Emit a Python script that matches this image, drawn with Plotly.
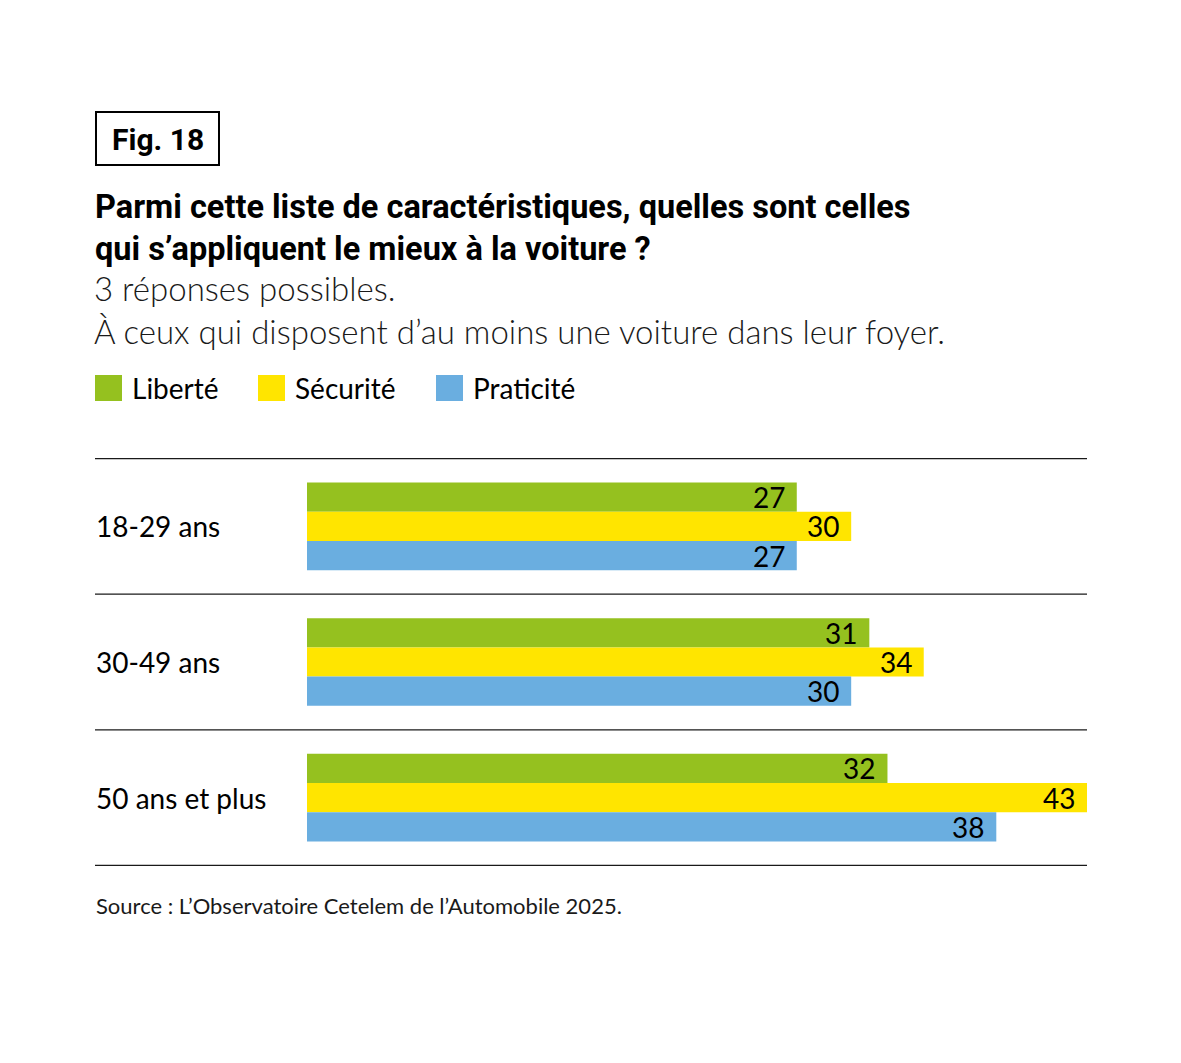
import plotly.graph_objects as go

categories = ["18-29 ans", "30-49 ans", "50 ans et plus"]
series_names = ["Liberté", "Sécurité", "Praticité"]
liberte = [27, 31, 32]
securite = [30, 34, 43]
praticite = [27, 30, 38]
colors = ["#95C11F", "#FFE500", "#6AAEE0"]

values = [liberte, securite, praticite]

OFF = 8  # page body margin
W, H = 1181, 1063
L, R = 307 - OFF, 1087 - OFF
T, B = 458 - OFF, 866 - OFF
BARGAP = 48 / 136
group_px = (B - T) / len(categories)
bar_px = group_px * (1 - BARGAP) / len(series_names)

fig = go.Figure()
for name, vals, col in zip(series_names, values, colors):
    fig.add_trace(go.Bar(
        y=categories, x=vals, name=name, orientation="h",
        marker=dict(color=col, line=dict(width=0)),
        showlegend=False, hoverinfo="skip",
    ))

def px_x(p):
    return (p - OFF - L) / (R - L)

def px_y(p):
    return 1 - (p - OFF - T) / (B - T)

shapes = []
annotations = []

# value labels
for j, vals in enumerate(values):
    for c, v in zip(categories, vals):
        annotations.append(dict(x=v, y=c, xref="x", yref="y", text=str(v),
                                showarrow=False, xanchor="right", yanchor="middle",
                                xshift=-10, yshift=(1 - j) * bar_px,
                                font=dict(family="Lato", size=28, color="#000000")))

# separator lines
for i in range(len(categories) + 1):
    shapes.append(dict(type="line", xref="paper", yref="y",
                       x0=px_x(95), x1=1, y0=i - 0.5, y1=i - 0.5,
                       line=dict(color="#1a1a1a", width=1.3)))

# category labels
for c in categories:
    annotations.append(dict(x=px_x(94), y=c, xref="paper", yref="y",
                            text=c, showarrow=False, xanchor="left", yanchor="middle",
                            font=dict(family="Lato", size=28, color="#000000")))

# Fig box
shapes.append(dict(type="rect", xref="paper", yref="paper",
                   x0=px_x(96), x1=px_x(219), y0=px_y(112), y1=px_y(165),
                   line=dict(color="#000000", width=2)))
annotations.append(dict(x=px_x(157.5), y=px_y(139), xref="paper", yref="paper",
                        text="<b>Fig. 18</b>", showarrow=False, xanchor="center", yanchor="middle",
                        font=dict(family="Roboto", size=30, color="#000000")))

# title
annotations.append(dict(x=px_x(93), y=px_y(186), xref="paper", yref="paper",
                        text="<b>Parmi cette liste de caractéristiques, quelles sont celles<br>qui s’appliquent le mieux à la voiture ?</b>",
                        showarrow=False, xanchor="left", yanchor="top", align="left",
                        font=dict(family="Roboto", size=32.5, color="#000000")))
annotations.append(dict(x=px_x(92), y=px_y(266), xref="paper", yref="paper",
                        text="3 réponses possibles.<br>À ceux qui disposent d’au moins une voiture dans leur foyer.",
                        showarrow=False, xanchor="left", yanchor="top", align="left",
                        font=dict(family="Lato", size=33, color="#1a1a1a", weight=300)))

# legend
legend_x = [95, 258, 436]
for name, col, lx in zip(series_names, colors, legend_x):
    shapes.append(dict(type="rect", xref="paper", yref="paper",
                       x0=px_x(lx), x1=px_x(lx + 27), y0=px_y(375), y1=px_y(401),
                       fillcolor=col, line=dict(width=0)))
    annotations.append(dict(x=px_x(lx + 35), y=px_y(388), xref="paper", yref="paper",
                            text=name, showarrow=False, xanchor="left", yanchor="middle",
                            font=dict(family="Lato", size=28, color="#000000")))

# source
annotations.append(dict(x=px_x(94), y=px_y(905), xref="paper", yref="paper",
                        text="Source : L’Observatoire Cetelem de l’Automobile 2025.",
                        showarrow=False, xanchor="left", yanchor="middle",
                        font=dict(family="Lato", size=22, color="#1a1a1a")))

fig.update_layout(
    width=W, height=H,
    margin=dict(l=L, r=W - R, t=T, b=H - B, pad=0),
    paper_bgcolor="white", plot_bgcolor="white",
    barmode="group", bargap=BARGAP, bargroupgap=0,
    xaxis=dict(range=[0, 43], visible=False, fixedrange=True),
    yaxis=dict(autorange="reversed", showticklabels=False, showgrid=False,
               zeroline=False, showline=False, ticks=""),
    shapes=shapes, annotations=annotations,
    font=dict(family="Lato"),
)

fig.write_html("out.html")
